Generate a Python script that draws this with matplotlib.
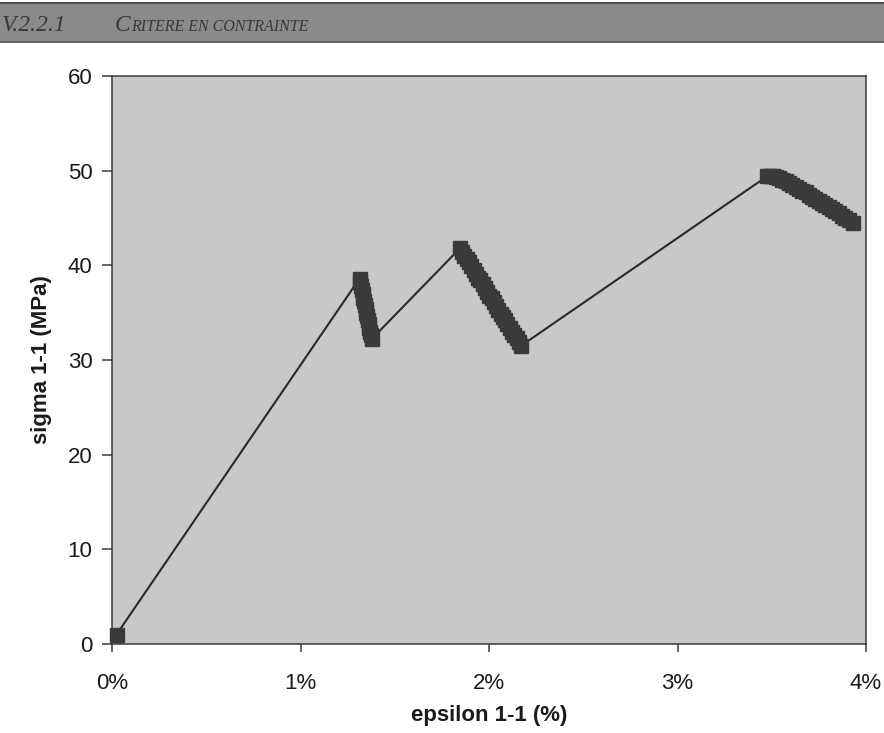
import matplotlib.pyplot as plt
from matplotlib.patches import Rectangle
from matplotlib.ticker import PercentFormatter

# Data (epsilon in %, sigma in MPa)
eps_start = [0.024]
sig_start = [1.0]

eps_c1 = [1.313, 1.317, 1.321, 1.325, 1.329, 1.333, 1.337, 1.341, 1.345, 1.349,
          1.353, 1.357, 1.361, 1.365, 1.369, 1.373, 1.377]
sig_c1 = [38.6, 38.2, 37.8, 37.4, 37.0, 36.6, 36.2, 35.8, 35.4, 35.0,
          34.6, 34.2, 33.8, 33.4, 33.0, 32.6, 32.2]

eps_c2 = [1.846, 1.858, 1.870, 1.882, 1.894, 1.906, 1.918, 1.930, 1.942, 1.954,
          1.966, 1.978, 1.990, 2.002, 2.014, 2.026, 2.038, 2.050, 2.062, 2.074,
          2.086, 2.098, 2.110, 2.122, 2.134, 2.146, 2.158, 2.170]
sig_c2 = [41.8, 41.4, 41.0, 40.7, 40.3, 39.9, 39.5, 39.1, 38.7, 38.4,
          38.0, 37.6, 37.2, 36.8, 36.5, 36.1, 35.7, 35.3, 34.9, 34.5,
          34.2, 33.8, 33.4, 33.0, 32.6, 32.3, 31.9, 31.5]

eps_c3 = [3.475, 3.490, 3.505, 3.522, 3.540, 3.557, 3.575, 3.592, 3.610, 3.627,
          3.645, 3.662, 3.680, 3.697, 3.715, 3.732, 3.750, 3.767, 3.785, 3.802,
          3.820, 3.837, 3.855, 3.872, 3.890, 3.910, 3.930]
sig_c3 = [49.4, 49.4, 49.4, 49.3, 49.2, 49.05, 48.9, 48.7, 48.5, 48.3,
          48.1, 47.9, 47.7, 47.45, 47.2, 47.0, 46.8, 46.6, 46.4, 46.15,
          45.9, 45.7, 45.5, 45.25, 45.0, 44.75, 44.5]

eps = eps_start + eps_c1 + eps_c2 + eps_c3
sigma = sig_start + sig_c1 + sig_c2 + sig_c3

x_ticks = [0, 1, 2, 3, 4]
y_ticks = [0, 10, 20, 30, 40, 50, 60]

plt.rcParams["font.family"] = ["Liberation Sans", "DejaVu Sans"]

W, H = 884, 733
fig = plt.figure(figsize=(W / 100, H / 100), dpi=100)
fig.patch.set_facecolor("white")

# Header bar
fig.patches.append(Rectangle((0, 1 - 42 / H), 1, 40 / H, transform=fig.transFigure,
                             facecolor="#8a8a8a", edgecolor="none", zorder=0))
fig.patches.append(Rectangle((0, 1 - 4 / H), 1, 2 / H, transform=fig.transFigure,
                             facecolor="#505050", edgecolor="none", zorder=1))
fig.patches.append(Rectangle((0, 1 - 43 / H), 1, 2 / H, transform=fig.transFigure,
                             facecolor="#666666", edgecolor="none", zorder=1))

hdr_y = 1 - 31 / H
fig.text(2 / W, hdr_y, "V.2.2.1", family="Liberation Serif", style="italic",
         fontsize=17, color="#383838", va="baseline", ha="left")
big_c = fig.text(115 / W, hdr_y, "C", family="Liberation Serif", style="italic",
                 fontsize=17, color="#383838", va="baseline", ha="left")
fig.canvas.draw()
bb = big_c.get_window_extent()
fig.text(bb.x1 / W, hdr_y, "RITERE EN CONTRAINTE", family="Liberation Serif",
         style="italic", fontsize=11.5, color="#383838", va="baseline", ha="left")

# Chart
ax = fig.add_axes([112 / W, 1 - 644 / H, (866 - 112) / W, (644 - 76) / H])
ax.set_facecolor("#c8c8c8")
ax.plot(eps, sigma, color="#2a2a2a", linewidth=1.5, marker="s", markersize=9.5,
        markerfacecolor="#3a3a3a", markeredgecolor="#3a3a3a", clip_on=False)

ax.set_xlim(0, 4)
ax.set_ylim(0, 60)
ax.set_xticks(x_ticks)
ax.set_yticks(y_ticks)
ax.xaxis.set_major_formatter(PercentFormatter(xmax=100, decimals=0))

for s in ax.spines.values():
    s.set_color("#3a3a3a")
    s.set_linewidth(1.1)

ax.tick_params(axis="y", direction="out", length=7, width=1.1, color="#3a3a3a",
               labelsize=16, pad=7, labelcolor="#1a1a1a")
ax.tick_params(axis="x", direction="out", length=6, width=1.1, color="#3a3a3a",
               labelsize=16, pad=15, labelcolor="#1a1a1a")

ax.set_xlabel("epsilon 1-1 (%)", fontsize=16, fontweight="bold", color="#1a1a1a", labelpad=8)
ax.set_ylabel("sigma 1-1 (MPa)", fontsize=16, fontweight="bold", color="#1a1a1a", labelpad=11)

fig.savefig("out.png", dpi=100)
